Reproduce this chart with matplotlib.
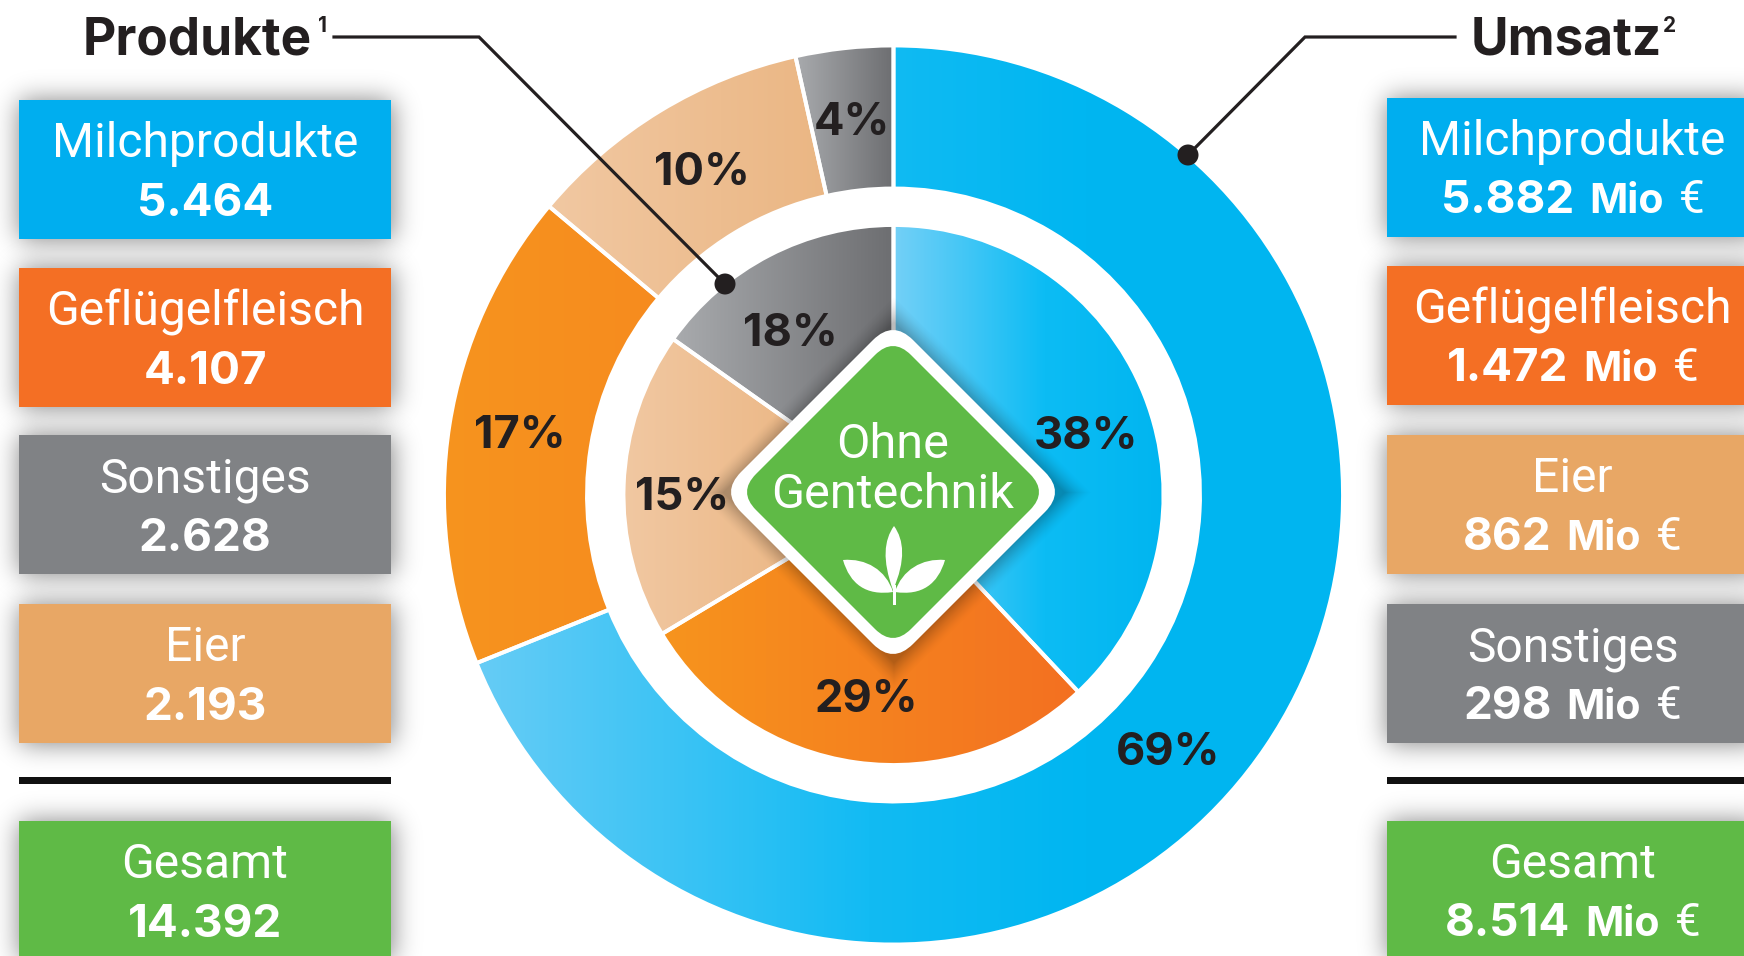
import math
import numpy as np
import matplotlib
matplotlib.use('Agg')
from matplotlib import pyplot as plt
from matplotlib.colors import LinearSegmentedColormap
from matplotlib.patches import PathPatch, Rectangle, Circle
from matplotlib.path import Path

W = 1744
H = 956

# dados
produkte_names = ['Milchprodukte', 'Geflügelfleisch', 'Sonstiges', 'Eier', 'Gesamt']
produkte_values = [5464, 4107, 2628, 2193, 14392]
umsatz_names = ['Milchprodukte', 'Geflügelfleisch', 'Eier', 'Sonstiges', 'Gesamt']
umsatz_values = [5882, 1472, 862, 298, 8514]

# slice sizes as drawn in the source: the peach inner slice is larger than the grey one,
# labels stay as printed
inner_shares = [38.0, 28.4, 18.4, 15.2]
inner_labels = ['38%', '29%', '15%', '18%']
outer_shares = [68.9, 17.2, 10.4, 3.5]
outer_labels = ['69%', '17%', '10%', '4%']

BLUE = '#00aeef'
ORANGE = '#f46f24'
GRAY = '#808285'
PEACH = '#e8a765'
GREEN = '#5fba46'
DARK = '#231f20'

plt.rcParams['font.family'] = ['Roboto', 'DejaVu Sans']
BOLD = ['Inter', 'Roboto', 'DejaVu Sans']

fig = plt.figure(figsize=(W / 100, H / 100), dpi=100)
ax = fig.add_axes([0, 0, 1, 1])


def Y(y):
    return H - y


def big(v):
    return f'{v:,}'.replace(',', '.')


erf = np.vectorize(math.erf)


#sombra difusa de um retangulo
def box_shadow(x0, y0, x1, y1, sigma=13, peak=0.5):
    pad = int(sigma * 3)
    xs = np.arange(x0 - pad, x1 + pad)
    ys = np.arange(y0 - pad, y1 + pad)
    s = sigma * math.sqrt(2)
    fx = 0.5 * (erf((xs - x0) / s) - erf((xs - x1) / s))
    fy = 0.5 * (erf((ys - y0) / s) - erf((ys - y1) / s))
    rgba = np.zeros((len(ys), len(xs), 4))
    rgba[:, :, 3] = peak * np.outer(fy, fx)
    ax.imshow(rgba, extent=(x0 - pad, x1 + pad, Y(y1 + pad), Y(y0 - pad)), zorder=0.5, aspect='auto')


def text_run(cx, y, parts):
    # partes de uma linha centralizadas juntas
    r = fig.canvas.get_renderer()
    items = []
    total = 0
    for s, size, family, weight, gap in parts:
        t = ax.text(0, Y(y), s, fontsize=size, family=family, fontweight=weight, color='white', va='baseline', ha='left', zorder=5)
        w = t.get_window_extent(r).width
        items.append((t, w, gap))
        total += w + gap
    x = cx - total / 2
    for t, w, gap in items:
        t.set_x(x)
        x += w + gap


def draw_boxes(x0, x1, tops, names, values, colors, euro):
    cx = (x0 + x1) / 2
    for top, name, v, c in zip(tops, names, values, colors):
        bottom = top + 139
        box_shadow(x0, top, x1, bottom)
        ax.add_patch(Rectangle((x0, Y(bottom)), x1 - x0, 139, fc=c, ec='none', zorder=2))
        ax.text(cx, Y(top + 57), name, fontsize=34.6, fontweight='normal', color='white', ha='center', va='baseline', zorder=5)
        if euro:
            text_run(cx, top + 115, [(big(v), 33, BOLD, 'bold', 15), ('Mio', 29.5, BOLD, 'bold', 15), ('€', 33, 'Roboto', 'normal', 0)])
        else:
            ax.text(cx, Y(top + 116), big(v), fontsize=33, family=BOLD, fontweight='bold', color='white', ha='center', va='baseline', zorder=5)


def rounded_diamond(cx, cy, h, d):
    corners = [(cx, cy + h), (cx + h, cy), (cx, cy - h), (cx - h, cy)]
    verts = []
    codes = []
    for i, c in enumerate(corners):
        prev = np.array(corners[i - 1], float)
        nxt = np.array(corners[(i + 1) % 4], float)
        c = np.array(c, float)
        a = c + (prev - c) / h * d
        b = c + (nxt - c) / h * d
        verts += [tuple(a), tuple(c), tuple(b)]
        codes += [Path.MOVETO if i == 0 else Path.LINETO, Path.CURVE3, Path.CURVE3]
    verts.append(verts[0])
    codes.append(Path.CLOSEPOLY)
    return Path(verts, codes)


def gradient_fill(wedge, stops):
    v = wedge.get_patch_transform().transform(wedge.get_path().vertices)
    x0, x1 = v[:, 0].min(), v[:, 0].max()
    y0, y1 = v[:, 1].min(), v[:, 1].max()
    cmap = LinearSegmentedColormap.from_list('g', stops)
    grad = np.linspace(0, 1, 512).reshape(1, -1)
    im = ax.imshow(grad, extent=(x0, x1, y0, y1), cmap=cmap, vmin=0, vmax=1, zorder=1, aspect='auto')
    im.set_clip_path(wedge)
    wedge.set_facecolor('none')
    wedge.set_edgecolor('white')
    wedge.set_linewidth(2.8)
    wedge.set_zorder(1.5)


# anel externo e pizza interna
CX, CY = 893.5, Y(495)
outer, _ = ax.pie(outer_shares, radius=449.5, center=(CX, CY), startangle=90, counterclock=False,
                  wedgeprops={'width': 143})
inner, _ = ax.pie(inner_shares, radius=270, center=(CX, CY), startangle=90, counterclock=False)

outer_grads = [
    [(0, '#66ccf6'), (0.45, '#12bbf3'), (0.7, '#00b6f1'), (1, '#00b5f0')],
    [(0, '#f7941e'), (1, '#f58220')],
    [(0, '#f1c8a2'), (1, '#e9b27c')],
    [(0, '#a9abae'), (1, '#6d6e71')],
]
inner_grads = [
    [(0, '#74d0f7'), (0.55, '#0cbcf4'), (1, '#00b5f0')],
    [(0, '#f7941d'), (1, '#f37021')],
    [(0, '#f1c8a2'), (1, '#e9af77')],
    [(0, '#a9abae'), (1, '#6d6e71')],
]
for w, g in zip(outer, outer_grads):
    gradient_fill(w, g)
for w, g in zip(inner, inner_grads):
    gradient_fill(w, g)

# etiquetas de porcentagem
outer_pos = [(1168, 765), (520, 448), (702, 185), (852, 135)]
inner_pos = [(1086, 449), (866, 712), (682, 510), (790, 346)]
for s, (x, y) in zip(outer_labels + inner_labels, outer_pos + inner_pos):
    ax.text(x, Y(y), s, fontsize=32.5, family=BOLD, fontweight='bold', color=DARK, ha='center', va='baseline', zorder=3)

# losango central
DX, DY = 893, Y(492)
sx = np.arange(DX - 210, DX + 210)
sy = np.arange(DY + 210, DY - 210, -1)
gx, gy = np.meshgrid(sx, sy)
dist = np.abs(gx - DX) + np.abs(gy - DY)
shadow = np.zeros(gx.shape + (4,))
shadow[:, :, 3] = 0.27 * np.clip((198 - dist) / 28, 0, 1) ** 1.5
ax.imshow(shadow, extent=(DX - 210, DX + 210, DY - 210, DY + 210), zorder=3.2, aspect='auto')
ax.add_patch(PathPatch(rounded_diamond(DX, DY, 172, 20), fc='white', ec='none', zorder=3.4))
ax.add_patch(PathPatch(rounded_diamond(DX, DY, 155, 18), fc=GREEN, ec='none', zorder=3.5))
ax.text(DX, Y(458), 'Ohne', fontsize=35, fontweight='normal', color='white', ha='center', va='baseline', zorder=5)
ax.text(DX, Y(508), 'Gentechnik', fontsize=35, fontweight='normal', color='white', ha='center', va='baseline', zorder=5)

# folhas do selo
leaf_mid = Path([(894, Y(526)), (884, Y(540)), (882, Y(560)), (893, Y(590)), (906, Y(560)), (904, Y(540)), (894, Y(526))],
                [Path.MOVETO, Path.CURVE4, Path.CURVE4, Path.CURVE4, Path.CURVE4, Path.CURVE4, Path.CURVE4])
ax.add_patch(PathPatch(leaf_mid, fc='white', ec='none', zorder=5))
for sign in (-1, 1):
    leaf = Path([(894 + sign * 51, Y(560)), (894 + sign * 28, Y(558)), (894 + sign * 8, Y(570)), (894 + sign * 1, Y(592)),
                 (894 + sign * 28, Y(596)), (894 + sign * 44, Y(584)), (894 + sign * 51, Y(560))],
                [Path.MOVETO, Path.CURVE4, Path.CURVE4, Path.CURVE4, Path.CURVE4, Path.CURVE4, Path.CURVE4])
    ax.add_patch(PathPatch(leaf, fc='white', ec='none', zorder=5))
ax.add_patch(Rectangle((892.5, Y(605)), 3, 20, fc='white', ec='none', zorder=5))

# caixas
left_tops = [100, 268, 435, 604, 821]
right_tops = [98, 266, 435, 604, 821]
left_colors = [BLUE, ORANGE, GRAY, PEACH, GREEN]
right_colors = [BLUE, ORANGE, PEACH, GRAY, GREEN]
draw_boxes(19, 391, left_tops, produkte_names, produkte_values, left_colors, False)
draw_boxes(1387, 1758, right_tops, umsatz_names, umsatz_values, right_colors, True)

for x0, x1 in ((19, 391), (1387, 1744)):
    ax.add_patch(Rectangle((x0, Y(783.5)), x1 - x0, 7, fc='#111111', ec='none', zorder=2))

# titulos e linhas de chamada
ax.text(83, Y(54), 'Produkte', fontsize=37, family=BOLD, fontweight='bold', color=DARK, va='baseline', ha='left', zorder=5)
ax.text(318, Y(32), '1', fontsize=15, family=BOLD, fontweight='bold', color=DARK, va='baseline', ha='left', zorder=5)
ax.text(1471, Y(54), 'Umsatz', fontsize=37, family=BOLD, fontweight='bold', color=DARK, va='baseline', ha='left', zorder=5)
ax.text(1663, Y(32), '2', fontsize=15, family=BOLD, fontweight='bold', color=DARK, va='baseline', ha='left', zorder=5)

ax.plot([334, 479, 725], [Y(37), Y(37), Y(284)], color=DARK, lw=2.3, zorder=4, solid_joinstyle='miter')
ax.plot([1455, 1305, 1188], [Y(37), Y(37), Y(155)], color=DARK, lw=2.3, zorder=4, solid_joinstyle='miter')
ax.add_patch(Circle((725, Y(284)), 10.5, fc=DARK, ec='none', zorder=4))
ax.add_patch(Circle((1188, Y(155)), 10.5, fc=DARK, ec='none', zorder=4))

ax.set_xlim(0, W)
ax.set_ylim(0, H)
ax.set_aspect('auto')
ax.axis('off')

fig.savefig('out.png', dpi=100, facecolor='white')
